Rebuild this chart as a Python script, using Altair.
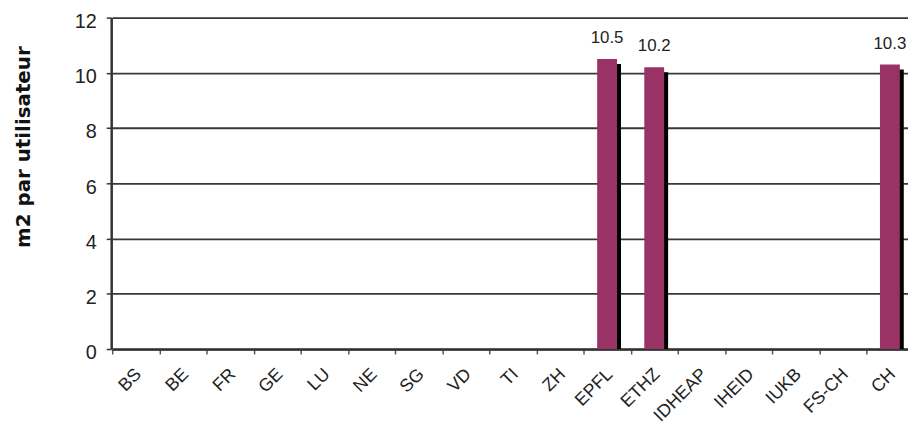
import altair as alt
import pandas as pd

categories = ["BS", "BE", "FR", "GE", "LU", "NE", "SG", "VD", "TI", "ZH",
              "EPFL", "ETHZ", "IDHEAP", "IHEID", "IUKB", "FS-CH", "CH"]
values = [None, None, None, None, None, None, None, None, None, None,
          10.5, 10.2, None, None, None, None, 10.3]
labels = ["" if v is None else f"{v:.1f}" for v in values]

df = pd.DataFrame({"cat": categories, "val": values, "lab": labels})

W = 803
H = 334
BAND = 47.5

x_enc = alt.X(
    "cat:N",
    sort=categories,
    scale=alt.Scale(domain=categories, paddingInner=0, paddingOuter=0,
                    range=[1, 1 + BAND * len(categories)]),
    axis=alt.Axis(
        title=None,
        tickBand="extent",
        labels=False,
        tickSize=5,
        tickColor="#555555",
        tickWidth=1.5,
        domainColor="#333333",
        domainWidth=2.5,
        grid=False,
    ),
)

y_enc = alt.Y(
    "val:Q",
    scale=alt.Scale(domain=[0, 12], nice=False, zero=True),
    axis=alt.Axis(
        title="m2 par utilisateur",
        titleFont="DejaVu Sans",
        titleFontSize=20,
        titleFontWeight="bold",
        titleColor="#111111",
        titleX=-88,
        titleY=130,
        titleAlign="center",
        titleBaseline="middle",
        titleAngle=270,
        values=[0, 2, 4, 6, 8, 10, 12],
        labelFont="Liberation Sans",
        labelFontSize=20,
        labelColor="#222222",
        labelPadding=10,
        labelOffset=4,
        tickSize=5,
        tickColor="#333333",
        tickWidth=1.5,
        domainColor="#333333",
        domainWidth=2.5,
        grid=True,
        gridColor="#383838",
        gridWidth=1.8,
    ),
)

base_all = alt.Chart(df)
base = base_all.transform_filter("isValid(datum.val)")

shadow = base.mark_bar(
    size=20, color="#000000", xOffset=4, yOffset=5, clip=True
).encode(x=x_enc, y=y_enc)

bars = base.mark_bar(size=20, color="#993366").encode(x=x_enc, y=y_enc)

text = base.mark_text(
    baseline="alphabetic", dy=-16, font="Liberation Sans", fontSize=17,
    color="#222222"
).encode(x=x_enc, y=y_enc, text="lab:N")

xlabels = base_all.mark_text(
    angle=315, align="right", baseline="middle", xOffset=3,
    font="Liberation Sans", fontSize=18, color="#222222"
).encode(x=x_enc, y=alt.value(H + 23), text="cat:N")

chart = alt.layer(shadow, bars, text, xlabels).properties(
    width=W,
    height=H,
    autosize=alt.AutoSizeParams(type="none"),
    padding={"left": 104, "top": 8, "right": 0, "bottom": 90},
).configure_view(
    fill="#d6d6d6",
    stroke="#9a9a9a",
    strokeWidth=1.5,
).configure(background="white")

chart.save("out.html", embed_options={"renderer": "svg", "actions": False})
